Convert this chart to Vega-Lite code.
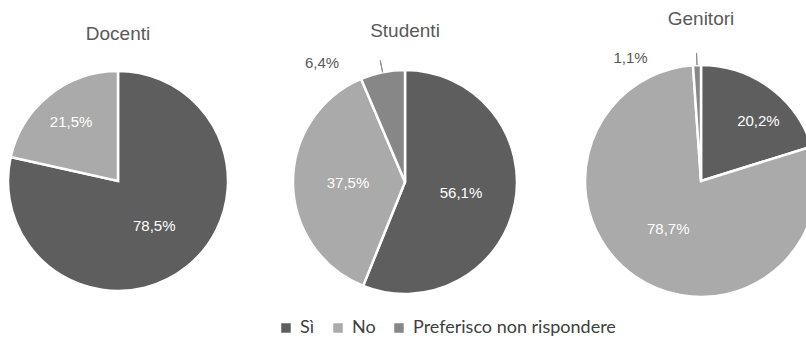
{
  "$schema": "https://vega.github.io/schema/vega-lite/v6.json",
  "padding": {"left": 0, "top": 10, "right": 0, "bottom": 0},
  "background": "#ffffff",
  "data": {
    "values": [
      {"gruppo": "Docenti", "risposta": "Sì", "k": 1, "v": 78.5, "etichetta": "78,5%"},
      {"gruppo": "Docenti", "risposta": "No", "k": 2, "v": 21.5, "etichetta": "21,5%"},
      {"gruppo": "Studenti", "risposta": "Sì", "k": 1, "v": 56.1, "etichetta": "56,1%"},
      {"gruppo": "Studenti", "risposta": "No", "k": 2, "v": 37.5, "etichetta": "37,5%"},
      {"gruppo": "Studenti", "risposta": "Preferisco non rispondere", "k": 3, "v": 6.4, "etichetta": "6,4%"},
      {"gruppo": "Genitori", "risposta": "Sì", "k": 1, "v": 20.2, "etichetta": "20,2%"},
      {"gruppo": "Genitori", "risposta": "No", "k": 2, "v": 78.7, "etichetta": "78,7%"},
      {"gruppo": "Genitori", "risposta": "Preferisco non rispondere", "k": 3, "v": 1.1, "etichetta": "1,1%"}
    ]
  },
  "spacing": 0,
  "bounds": "flush",
  "hconcat": [
    {
      "width": 236,
      "height": 260,
      "title": {"text": "Docenti", "offset": -8, "baseline": "alphabetic"},
      "transform": [
        {"filter": "datum.gruppo === 'Docenti'"},
        {"stack": "v", "groupby": [], "sort": [{"field": "k", "order": "ascending"}], "as": ["v0", "v1"]},
        {"calculate": "(datum.v0 + datum.v1) / 2", "as": "mid"}
      ],
      "layer": [
        {
          "mark": {"type": "arc", "outerRadius": 110, "stroke": "#ffffff", "strokeWidth": 2.5},
          "encoding": {
            "theta": {"field": "v0", "type": "quantitative", "scale": {"domain": [0, 100]}},
            "theta2": {"field": "v1"},
            "color": {
              "field": "risposta", "type": "nominal",
              "scale": {"domain": ["Sì", "No", "Preferisco non rispondere"], "range": ["#5e5e5e", "#aaaaaa", "#878787"]},
              "legend": {"title": null, "orient": "none", "legendX": 277, "legendY": 268, "direction": "horizontal", "symbolType": "square", "symbolSize": 90, "symbolStrokeWidth": 0, "labelFont": "Lato", "labelFontSize": 18, "labelColor": "#404040", "columnPadding": 14, "labelOffset": 5, "labelLimit": 0}
            }
          }
        },
        {
          "transform": [{"filter": "datum.risposta === 'Sì'"}],
          "mark": {"type": "text", "radius": 58, "fill": "#ffffff", "fontSize": 15, "font": "Liberation Sans"},
          "encoding": {"theta": {"field": "mid", "type": "quantitative", "scale": {"domain": [0, 100]}}, "text": {"field": "etichetta"}}
        },
        {
          "transform": [{"filter": "datum.risposta === 'No'"}],
          "mark": {"type": "text", "radius": 75, "fill": "#ffffff", "fontSize": 15, "font": "Liberation Sans"},
          "encoding": {"theta": {"field": "mid", "type": "quantitative", "scale": {"domain": [0, 100]}}, "text": {"field": "etichetta"}}
        }
      ]
    },
    {
      "width": 338,
      "height": 262,
      "title": {"text": "Studenti", "offset": -5, "baseline": "alphabetic"},
      "transform": [
        {"filter": "datum.gruppo === 'Studenti'"},
        {"stack": "v", "groupby": [], "sort": [{"field": "k", "order": "ascending"}], "as": ["v0", "v1"]},
        {"calculate": "(datum.v0 + datum.v1) / 2", "as": "mid"}
      ],
      "layer": [
        {
          "mark": {"type": "arc", "outerRadius": 112, "stroke": "#ffffff", "strokeWidth": 2.5},
          "encoding": {
            "theta": {"field": "v0", "type": "quantitative", "scale": {"domain": [0, 100]}},
            "theta2": {"field": "v1"},
            "color": {
              "field": "risposta", "type": "nominal",
              "scale": {"domain": ["Sì", "No", "Preferisco non rispondere"], "range": ["#5e5e5e", "#aaaaaa", "#878787"]},
              "legend": {"title": null, "orient": "none", "legendX": 277, "legendY": 268, "direction": "horizontal", "symbolType": "square", "symbolSize": 90, "symbolStrokeWidth": 0, "labelFont": "Lato", "labelFontSize": 18, "labelColor": "#404040", "columnPadding": 14, "labelOffset": 5, "labelLimit": 0}
            }
          }
        },
        {
          "transform": [{"filter": "datum.risposta === 'Preferisco non rispondere'"}],
          "mark": {"type": "arc", "innerRadius": 112, "outerRadius": 124, "stroke": "#8c8c8c", "strokeWidth": 1, "filled": false},
          "encoding": {"theta": {"field": "mid", "type": "quantitative", "scale": {"domain": [0, 100]}}, "theta2": {"field": "mid"}}
        },
        {
          "transform": [{"filter": "datum.risposta !== 'Preferisco non rispondere'"}],
          "mark": {"type": "text", "radius": 57, "fill": "#ffffff", "fontSize": 15, "font": "Liberation Sans"},
          "encoding": {"theta": {"field": "mid", "type": "quantitative", "scale": {"domain": [0, 100]}}, "text": {"field": "etichetta"}}
        },
        {
          "transform": [{"filter": "datum.risposta === 'Preferisco non rispondere'"}],
          "mark": {"type": "text", "radius": 125, "dx": -58, "dy": 3, "fill": "#595959", "fontSize": 15, "font": "Liberation Sans"},
          "encoding": {"theta": {"field": "mid", "type": "quantitative", "scale": {"domain": [0, 100]}}, "text": {"field": "etichetta"}}
        }
      ]
    },
    {
      "width": 254,
      "height": 260,
      "title": {"text": "Genitori", "offset": 7, "baseline": "alphabetic"},
      "transform": [
        {"filter": "datum.gruppo === 'Genitori'"},
        {"stack": "v", "groupby": [], "sort": [{"field": "k", "order": "ascending"}], "as": ["v0", "v1"]},
        {"calculate": "(datum.v0 + datum.v1) / 2", "as": "mid"}
      ],
      "layer": [
        {
          "mark": {"type": "arc", "outerRadius": 116, "stroke": "#ffffff", "strokeWidth": 2.5},
          "encoding": {
            "theta": {"field": "v0", "type": "quantitative", "scale": {"domain": [0, 100]}},
            "theta2": {"field": "v1"},
            "color": {
              "field": "risposta", "type": "nominal",
              "scale": {"domain": ["Sì", "No", "Preferisco non rispondere"], "range": ["#5e5e5e", "#aaaaaa", "#878787"]},
              "legend": {"title": null, "orient": "none", "legendX": 277, "legendY": 268, "direction": "horizontal", "symbolType": "square", "symbolSize": 90, "symbolStrokeWidth": 0, "labelFont": "Lato", "labelFontSize": 18, "labelColor": "#404040", "columnPadding": 14, "labelOffset": 5, "labelLimit": 0}
            }
          }
        },
        {
          "transform": [{"filter": "datum.risposta === 'Preferisco non rispondere'"}],
          "mark": {"type": "arc", "innerRadius": 116, "outerRadius": 128, "stroke": "#8c8c8c", "strokeWidth": 1, "filled": false},
          "encoding": {"theta": {"field": "mid", "type": "quantitative", "scale": {"domain": [0, 100]}}, "theta2": {"field": "mid"}}
        },
        {
          "transform": [{"filter": "datum.risposta === 'Sì'"}],
          "mark": {"type": "text", "radius": 80, "dx": 10, "dy": 4, "fill": "#ffffff", "fontSize": 15, "font": "Liberation Sans"},
          "encoding": {"theta": {"field": "mid", "type": "quantitative", "scale": {"domain": [0, 100]}}, "text": {"field": "etichetta"}}
        },
        {
          "transform": [{"filter": "datum.risposta === 'No'"}],
          "mark": {"type": "text", "radius": 58, "fill": "#ffffff", "fontSize": 15, "font": "Liberation Sans"},
          "encoding": {"theta": {"field": "mid", "type": "quantitative", "scale": {"domain": [0, 100]}}, "text": {"field": "etichetta"}}
        },
        {
          "transform": [{"filter": "datum.risposta === 'Preferisco non rispondere'"}],
          "mark": {"type": "text", "radius": 130, "dx": -66, "dy": 7, "fill": "#595959", "fontSize": 15, "font": "Liberation Sans"},
          "encoding": {"theta": {"field": "mid", "type": "quantitative", "scale": {"domain": [0, 100]}}, "text": {"field": "etichetta"}}
        }
      ]
    }
  ],
  "config": {
    "view": {"stroke": null},
    "title": {"font": "Liberation Sans", "fontSize": 19, "fontWeight": "normal", "color": "#595959"}
  }
}
